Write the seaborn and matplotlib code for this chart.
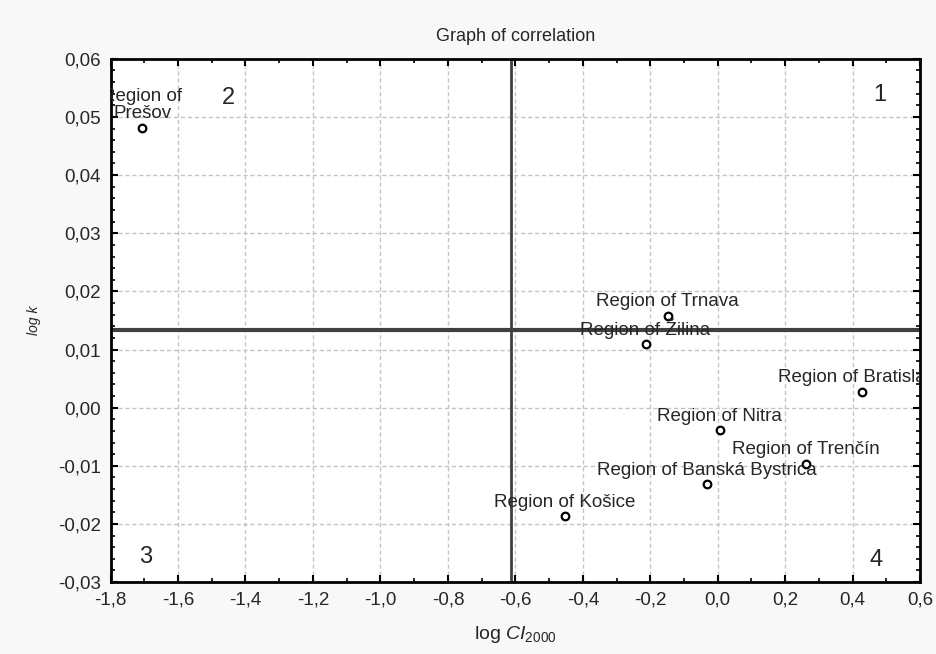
import numpy as np
import pandas as pd
import matplotlib
matplotlib.use('Agg')
import matplotlib.pyplot as plt
import matplotlib.ticker as mticker
import seaborn as sns

# data
regions = ['Region of\nPrešov', 'Region of Trnava', 'Region of Žilina', 'Region of Bratislava',
           'Region of Nitra', 'Region of Trenčín', 'Region of Banská Bystrica', 'Region of Košice']
log_ci = [-1.706, -0.148, -0.214, 0.428, 0.006, 0.261, -0.032, -0.453]
log_k = [0.0481, 0.0158, 0.0109, 0.0027, -0.0039, -0.0097, -0.0132, -0.0187]
x_line = -0.614
y_line = 0.0134
quadrants = ['1', '2', '3', '4']

data = pd.DataFrame({'Region': regions, 'logCI': log_ci, 'logk': log_k})

sns.set_style('ticks')
plt.rcParams['font.family'] = ['Liberation Sans', 'DejaVu Sans']
plt.rcParams['mathtext.fontset'] = 'custom'
plt.rcParams['mathtext.rm'] = 'Liberation Sans'
plt.rcParams['mathtext.it'] = 'Liberation Sans:italic'

fig = plt.figure(figsize=(9.37, 6.54), dpi=100, facecolor='#f8f8f8')
ax = fig.add_axes([0.118, 0.110, 0.864, 0.800])
ax.set_facecolor('white')

ax.axvline(x_line, color='#404040', lw=2, zorder=2)
ax.axhline(y_line, color='#404040', lw=3, zorder=2)

sns.scatterplot(data=data, x='logCI', y='logk', ax=ax, marker='o', s=30,
                facecolor='white', edgecolor='black', linewidth=1.6, zorder=3)

# labels above points; the edge ones are cut by the frame as in the original
for name, xv, yv in zip(data['Region'], data['logCI'], data['logk']):
    ax.annotate(name, (xv, yv), xytext=(0, 7), textcoords='offset points',
                ha='center', va='baseline', fontsize=13.5, clip_on=True,
                linespacing=1.0, zorder=4)

qpos = [(0.95, 0.93), (0.145, 0.926), (0.043, 0.048), (0.946, 0.042)]
for q, (qx, qy) in zip(quadrants, qpos):
    ax.text(qx, qy, q, transform=ax.transAxes, fontsize=17, ha='center', va='center')

ax.set_xlim(-1.8, 0.6)
ax.set_ylim(-0.03, 0.06)
ax.xaxis.set_major_locator(mticker.MultipleLocator(0.2))
ax.xaxis.set_minor_locator(mticker.MultipleLocator(0.1))
ax.yaxis.set_major_locator(mticker.MultipleLocator(0.01))
ax.yaxis.set_minor_locator(mticker.MultipleLocator(0.002))
ax.xaxis.set_major_formatter(mticker.FuncFormatter(lambda v, p: f'{v:.1f}'.replace('.', ',').replace('-0,0', '0,0')))
ax.yaxis.set_major_formatter(mticker.FuncFormatter(lambda v, p: f'{v:.2f}'.replace('.', ',').replace('-0,00', '0,00')))

ax.tick_params(which='both', direction='in', top=True, right=True, labelsize=13.5, color='black')
ax.tick_params(which='major', length=5, width=1.5, pad=7)
ax.tick_params(which='minor', length=3, width=1.2)
ax.grid(True, which='major', color='#c4c4c4', ls=(0, (3, 2)), lw=1, zorder=0)
for sp in ax.spines.values():
    sp.set_linewidth(2)
    sp.set_color('black')

ax.set_title('Graph of correlation', fontsize=13, pad=13)
ax.set_xlabel(r'log $\mathit{CI}_{\mathit{2000}}$', fontsize=14, labelpad=11)
ax.set_ylabel('log k', fontsize=10, style='italic', labelpad=12)

fig.savefig('out.png', dpi=100, facecolor=fig.get_facecolor())
